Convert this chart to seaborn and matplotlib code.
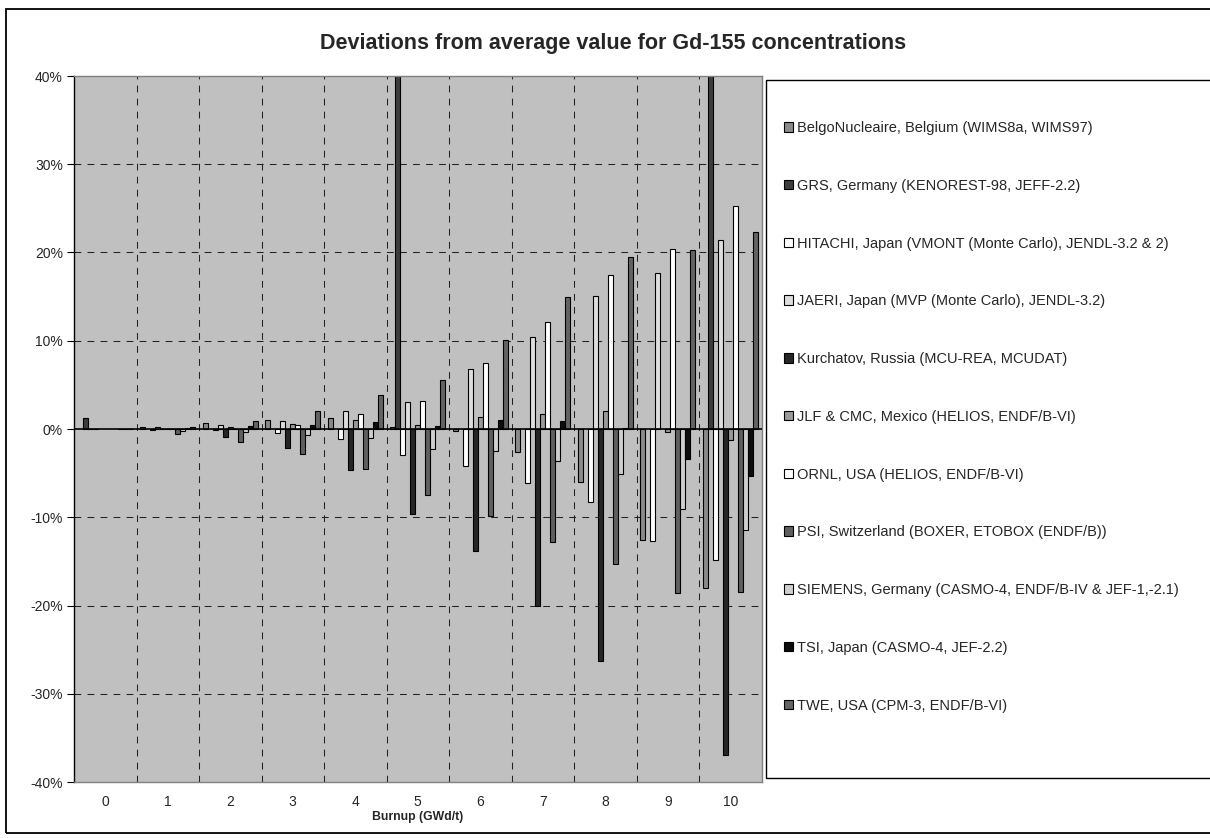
import numpy as np
import pandas as pd
import matplotlib
matplotlib.use("Agg")
import matplotlib.pyplot as plt
from matplotlib.patches import Rectangle
import seaborn as sns

nan = np.nan

# Burnup steps (GWd/t)
burnup = [0, 1, 2, 3, 4, 5, 6, 7, 8, 9, 10]

labs = [
    "BelgoNucleaire, Belgium (WIMS8a, WIMS97)",
    "GRS, Germany (KENOREST-98, JEFF-2.2)",
    "HITACHI, Japan (VMONT (Monte Carlo), JENDL-3.2 & 2)",
    "JAERI, Japan (MVP (Monte Carlo), JENDL-3.2)",
    "Kurchatov, Russia (MCU-REA, MCUDAT)",
    "JLF & CMC, Mexico (HELIOS, ENDF/B-VI)",
    "ORNL, USA (HELIOS, ENDF/B-VI)",
    "PSI, Switzerland (BOXER, ETOBOX (ENDF/B))",
    "SIEMENS, Germany (CASMO-4, ENDF/B-IV & JEF-1,-2.1)",
    "TSI, Japan (CASMO-4, JEF-2.2)",
    "TWE, USA (CPM-3, ENDF/B-VI)",
]

# Deviation from the average Gd-155 concentration, in percent
belgo     = [nan, 0.25, 0.7, 1.0, 1.25, 0.2, -0.2, -2.55, -6.0, -12.55, -18.0]
grs       = [1.2, nan, nan, nan, nan, 48.0, nan, nan, nan, nan, 52.0]
hitachi   = [0.0, -0.1, -0.15, -0.5, -1.1, -3.0, -4.2, -6.15, -8.3, -12.7, -14.8]
jaeri     = [0.0, 0.2, 0.45, 0.9, 2.0, 3.1, 6.8, 10.4, 15.1, 17.65, 21.45]
kurchatov = [nan, -0.05, -0.9, -2.1, -4.6, -9.6, -13.8, -20.0, -26.25, nan, -36.9]
jlf       = [nan, 0.0, 0.2, 0.55, 1.0, 0.5, 1.35, 1.75, 2.0, -0.35, -1.2]
ornl      = [nan, 0.0, 0.0, 0.45, 1.7, 3.2, 7.5, 12.1, 17.5, 20.4, 25.3]
psi       = [nan, -0.6, -1.5, -2.8, -4.5, -7.5, -9.85, -12.8, -15.3, -18.55, -18.45]
siemens   = [0.0, -0.25, -0.35, -0.7, -1.0, -2.3, -2.45, -3.65, -5.1, -9.1, -11.5]
tsi       = [0.0, 0.15, 0.35, 0.45, 0.8, 0.3, 1.05, 0.85, 0.15, -3.35, -5.3]
twe       = [0.0, 0.25, 0.95, 2.0, 3.85, 5.5, 10.05, 15.0, 19.5, 20.3, 22.3]

series = [belgo, grs, hitachi, jaeri, kurchatov, jlf, ornl, psi, siemens, tsi, twe]

colors = ["#8a8a8a", "#3d3d3d", "#ffffff", "#dedede", "#262626", "#9a9a9a",
          "#ffffff", "#5f5f5f", "#cfcfcf", "#0d0d0d", "#636363"]

ytick_vals = [-40, -30, -20, -10, 0, 10, 20, 30, 40]

rows = []
for lab, vals in zip(labs, series):
    for b, v in zip(burnup, vals):
        rows.append({"burnup": b, "dev": v, "lab": lab})
df = pd.DataFrame(rows)

sns.set_style("ticks")
plt.rcParams["font.family"] = ["Liberation Sans", "DejaVu Sans"]

W, H = 1210, 838
fig = plt.figure(figsize=(W / 100, H / 100), dpi=100)
ax = fig.add_axes([74 / W, 1 - 782 / H, 687.5 / W, 706 / H])
ax.set_facecolor("#c0c0c0")

sns.barplot(data=df, x="burnup", y="dev", hue="lab", order=burnup,
            hue_order=labs, palette=colors, width=0.88, gap=0,
            dodge=True, errorbar=None, saturation=1, edgecolor="black",
            linewidth=0.8, ax=ax, legend=True, zorder=2)

ax.set_ylim(-40, 40)
ax.set_xlim(-0.5, 10.5)
ax.set_yticks(ytick_vals)
ax.set_yticklabels([f"{v:d}%" for v in ytick_vals], fontsize=10)
ax.set_xticks(range(len(burnup)))
ax.set_xticklabels([str(b) for b in burnup], fontsize=10)
ax.tick_params(axis="x", which="both", length=0, pad=9)
ax.tick_params(axis="y", which="major", length=5, width=0.8, pad=3,
               color="black", direction="out")
ax.tick_params(axis="y", which="minor", length=0)

dash = (0, (6.5, 6))
for yv in [-30, -20, -10, 10, 20, 30]:
    ax.axhline(yv, color="#222222", lw=0.75, ls=dash, zorder=1)
for xv in np.arange(0.5, len(burnup) - 0.5, 1.0):
    ax.axvline(xv, color="#222222", lw=0.75, ls=dash, zorder=1)
ax.axhline(0, color="black", lw=1.2, zorder=3)

for side in ["top", "right", "bottom"]:
    ax.spines[side].set_color("#808080")
    ax.spines[side].set_linewidth(1.0)
ax.spines["left"].set_color("black")
ax.spines["left"].set_linewidth(1.0)

ax.set_ylabel("")
ax.set_xlabel("Burnup (GWd/t)", fontsize=8.8, fontweight="bold", labelpad=2)

# Legend on the right, inside its own framed box
handles, labels = ax.get_legend_handles_labels()
ax.get_legend().remove()
fig.legend(handles, labels, loc="upper left",
           bbox_to_anchor=(784 / W, 1 - 121 / H), frameon=False,
           fontsize=10.5, handlelength=0.62, handleheight=0.62,
           handletextpad=0.3, labelspacing=3.0, borderpad=0,
           borderaxespad=0)
fig.add_artist(Rectangle((766 / W, 1 - 778 / H), 460 / W, 698 / H,
                         transform=fig.transFigure, fill=False,
                         edgecolor="black", lw=1.0))

# Chart frame
fig.add_artist(Rectangle((6 / W, 1 - 833 / H), 1220 / W, 824 / H,
                         transform=fig.transFigure, fill=False,
                         edgecolor="black", lw=1.3))

fig.text(613 / W, 1 - 44 / H,
         "Deviations from average value for Gd-155 concentrations",
         ha="center", va="center", fontsize=15.5, fontweight="bold")

fig.savefig("out.png", dpi=100, facecolor="white")
